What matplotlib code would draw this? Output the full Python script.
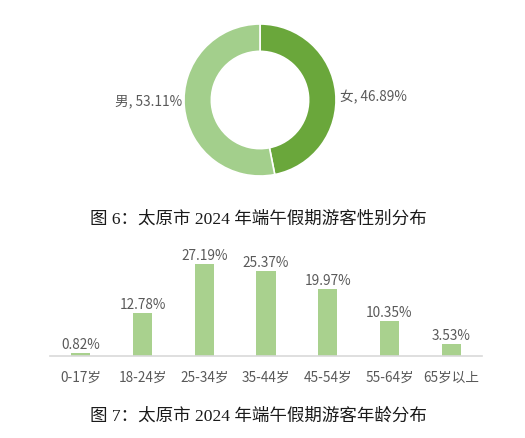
import matplotlib
matplotlib.use("Agg")
import matplotlib.pyplot as plt

plt.rcParams['font.family'] = ['Noto Sans CJK SC', 'DejaVu Sans']

# gender split (figure 6)
genders = ["女", "男"]
gender_share = [46.89, 53.11]
gender_colors = ["#6aa73b", "#a3cf8c"]

# age split (figure 7)
age_groups = ["0-17岁", "18-24岁", "25-34岁", "35-44岁", "45-54岁", "55-64岁", "65岁以上"]
age_share = [0.82, 12.78, 27.19, 25.37, 19.97, 10.35, 3.53]

caption6 = "图 6：太原市 2024 年端午假期游客性别分布"
caption7 = "图 7：太原市 2024 年端午假期游客年龄分布"

W, H = 525, 439
fig = plt.figure(figsize=(W / 100, H / 100), dpi=100)

def box(left, top, w, h):
    # pixel box -> figure fraction
    return [left / W, (H - top - h) / H, w / W, h / H]

# donut
ax1 = fig.add_axes(box(184, 25, 152, 152))
ax1.pie(gender_share, colors=gender_colors, startangle=90, counterclock=False,
        wedgeprops=dict(width=0.36, edgecolor="white", linewidth=1.2))
ax1.set_xlim(-1, 1)
ax1.set_ylim(-1, 1)
ax1.text(1.05, 0.05, f"{genders[0]}, {gender_share[0]:.2f}%", ha="left", va="center",
         fontsize=9.8, color="#595959", clip_on=False)
ax1.text(-1.02, -0.01, f"{genders[1]}, {gender_share[1]:.2f}%", ha="right", va="center",
         fontsize=9.8, color="#595959", clip_on=False)

serif = ['Liberation Serif', 'Noto Sans CJK SC']
fig.text(258 / W, 1 - 220 / H, caption6, ha="center", va="center", fontsize=12.6,
         color="#1a1a1a", family=serif)

# bars
ax2 = fig.add_axes(box(50, 256, 432, 101))
x = range(len(age_groups))
ax2.bar(x, age_share, width=0.31, color="#a9d18e")
ax2.set_xlim(-0.5, len(age_groups) - 0.5)
ax2.set_ylim(0, 30)
for xi, v in zip(x, age_share):
    ax2.annotate(f"{v:.2f}%", (xi, v), xytext=(0, 6.5), textcoords="offset points",
                 ha="center", va="center", fontsize=9.8, color="#595959")
ax2.set_xticks(list(x))
ax2.set_xticklabels(age_groups, fontsize=9.8, color="#595959")
ax2.tick_params(axis="x", length=0, pad=10)
ax2.set_yticks([])
for s in ["top", "left", "right"]:
    ax2.spines[s].set_visible(False)
ax2.spines["bottom"].set_color("#d9d9d9")
ax2.spines["bottom"].set_linewidth(1.2)

fig.text(258 / W, 1 - 417 / H, caption7, ha="center", va="center", fontsize=12.6,
         color="#1a1a1a", family=serif)

fig.savefig("out.png", dpi=100)
